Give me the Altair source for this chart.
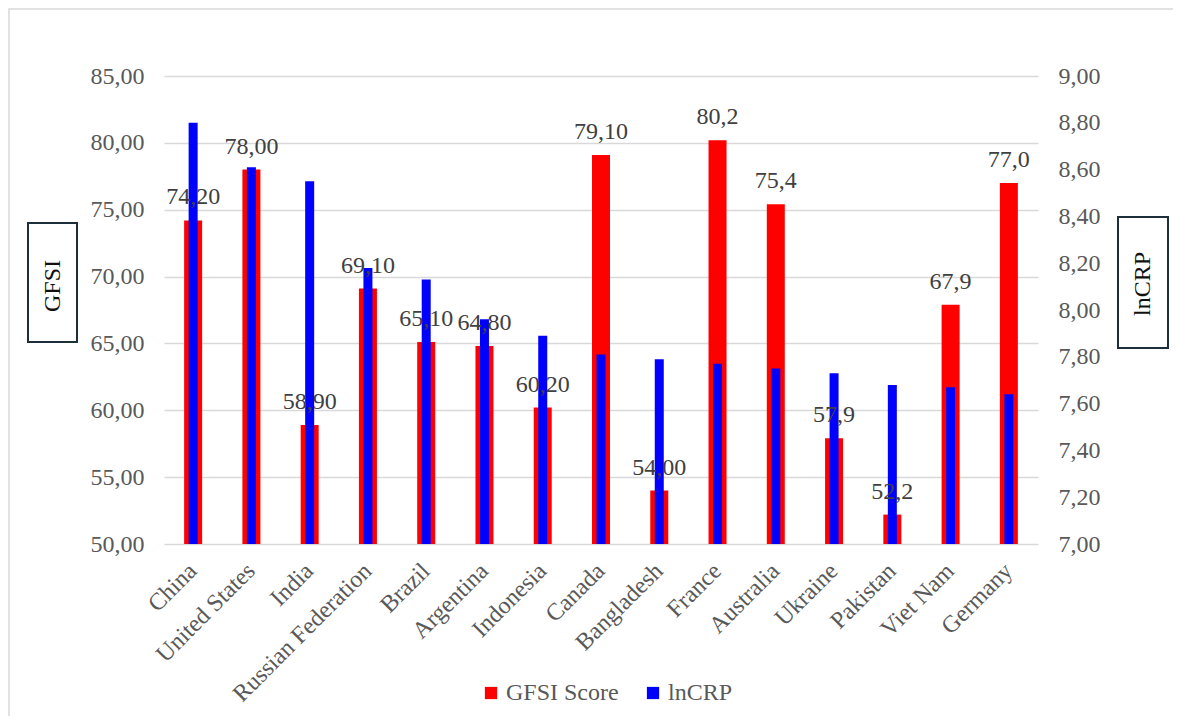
import altair as alt
import pandas as pd

countries = ["China", "United States", "India", "Russian Federation", "Brazil",
             "Argentina", "Indonesia", "Canada", "Bangladesh", "France",
             "Australia", "Ukraine", "Pakistan", "Viet Nam", "Germany"]
gfsi = [74.2, 78.0, 58.9, 69.1, 65.1, 64.8, 60.2, 79.1, 54.0, 80.2,
        75.4, 57.9, 52.2, 67.9, 77.0]
gfsi_labels = ["74,20", "78,00", "58,90", "69,10", "65,10", "64,80", "60,20",
               "79,10", "54,00", "80,2", "75,4", "57,9", "52,2", "67,9", "77,0"]
lncrp = [8.80, 8.61, 8.55, 8.18, 8.13, 7.96, 7.89, 7.81, 7.79, 7.77,
         7.75, 7.73, 7.68, 7.67, 7.64]
series_names = ["GFSI Score", "lnCRP"]

df = pd.DataFrame({"country": countries, "gfsi": gfsi, "label": gfsi_labels, "lncrp": lncrp})
one = pd.DataFrame({"k": [0]})

FONT = "Liberation Serif"
W, H = 874, 468

x_enc = alt.X("country:N", sort=countries, title=None,
              scale=alt.Scale(paddingInner=0.0, paddingOuter=0.0),
              axis=alt.Axis(labelAngle=-45, labelAlign="right", labelBaseline="middle",
                            labelPadding=23, labelLimit=0, ticks=False, domain=False,
                            grid=False, labelFont=FONT, labelFontSize=24,
                            labelColor="#595959"))

color_scale = alt.Scale(domain=series_names, range=["#ff0000", "#0000ff"])
legend = alt.Legend(orient="none", legendX=315, legendY=605, direction="horizontal",
                    title=None, symbolType="square", symbolSize=150, symbolStrokeWidth=0,
                    labelFont=FONT, labelFontSize=24, labelColor="#595959",
                    labelOffset=3, columnPadding=22, padding=0)
color_enc = alt.Color("series:N", scale=color_scale, legend=legend)

red = alt.Chart(df).transform_calculate(series="'GFSI Score'").mark_bar(size=18).encode(
    x=x_enc,
    y=alt.Y("gfsi:Q", scale=alt.Scale(domain=[50, 85], nice=False, zero=False), title=None,
            axis=alt.Axis(orient="left", values=[50, 55, 60, 65, 70, 75, 80, 85],
                          labelExpr="replace(format(datum.value, '.2f'), '.', ',')",
                          ticks=False, domain=False, grid=True, gridColor="#d9d9d9",
                          gridWidth=1.5, labelPadding=20, labelFont=FONT,
                          labelFontSize=24, labelColor="#595959")),
    y2=alt.datum(50),
    color=color_enc,
)

blue = alt.Chart(df).transform_calculate(series="'lnCRP'").mark_bar(size=9).encode(
    x=x_enc,
    y=alt.Y("lncrp:Q", scale=alt.Scale(domain=[7, 9], nice=False, zero=False), title=None,
            axis=alt.Axis(orient="right",
                          values=[7.0, 7.2, 7.4, 7.6, 7.8, 8.0, 8.2, 8.4, 8.6, 8.8, 9.0],
                          labelExpr="replace(format(datum.value, '.2f'), '.', ',')",
                          ticks=False, domain=False, grid=False, labelPadding=20,
                          labelFont=FONT, labelFontSize=24, labelColor="#595959")),
    y2=alt.datum(7),
    color=color_enc,
)

labels = alt.Chart(df).mark_text(dy=-16, baseline="alphabetic", font=FONT, fontSize=24,
                                 color="#404040").encode(
    x=x_enc,
    y=alt.Y("gfsi:Q", scale=alt.Scale(domain=[50, 85], nice=False, zero=False), axis=None),
    text="label:N",
)

border = alt.Chart(one).mark_rect(filled=False, stroke="#d9d9d9", strokeWidth=1.5).encode(
    x=alt.value(-155), x2=alt.value(1300), y=alt.value(-67), y2=alt.value(900))

box_l = alt.Chart(one).mark_rect(fill="white", stroke="#1c2f3a", strokeWidth=2).encode(
    x=alt.value(-136), x2=alt.value(-87), y=alt.value(147), y2=alt.value(266))
title_l = alt.Chart(one).mark_text(angle=270, font=FONT, fontSize=24, color="#111111",
                                   baseline="middle", align="center").encode(
    x=alt.value(-111), y=alt.value(210), text=alt.value("GFSI"))

box_r = alt.Chart(one).mark_rect(fill="white", stroke="#1c2f3a", strokeWidth=2).encode(
    x=alt.value(954), x2=alt.value(1004), y=alt.value(141), y2=alt.value(272))
title_r = alt.Chart(one).mark_text(angle=270, font=FONT, fontSize=24, color="#111111",
                                   baseline="middle", align="center").encode(
    x=alt.value(979), y=alt.value(208), text=alt.value("lnCRP"))

chart = alt.layer(border, red, blue, labels, box_l, title_l, box_r, title_r).resolve_scale(
    y="independent"
).properties(
    width=W, height=H, autosize="none", background="white",
    padding={"left": 156, "top": 68, "right": 135, "bottom": 172},
).configure(font=FONT).configure_view(
    strokeWidth=0, stroke="transparent"
).configure_legend(
    labelFont=FONT, labelFontSize=24, labelColor="#595959"
)

chart.save("out.html", embed_options={"renderer": "svg", "actions": False})
